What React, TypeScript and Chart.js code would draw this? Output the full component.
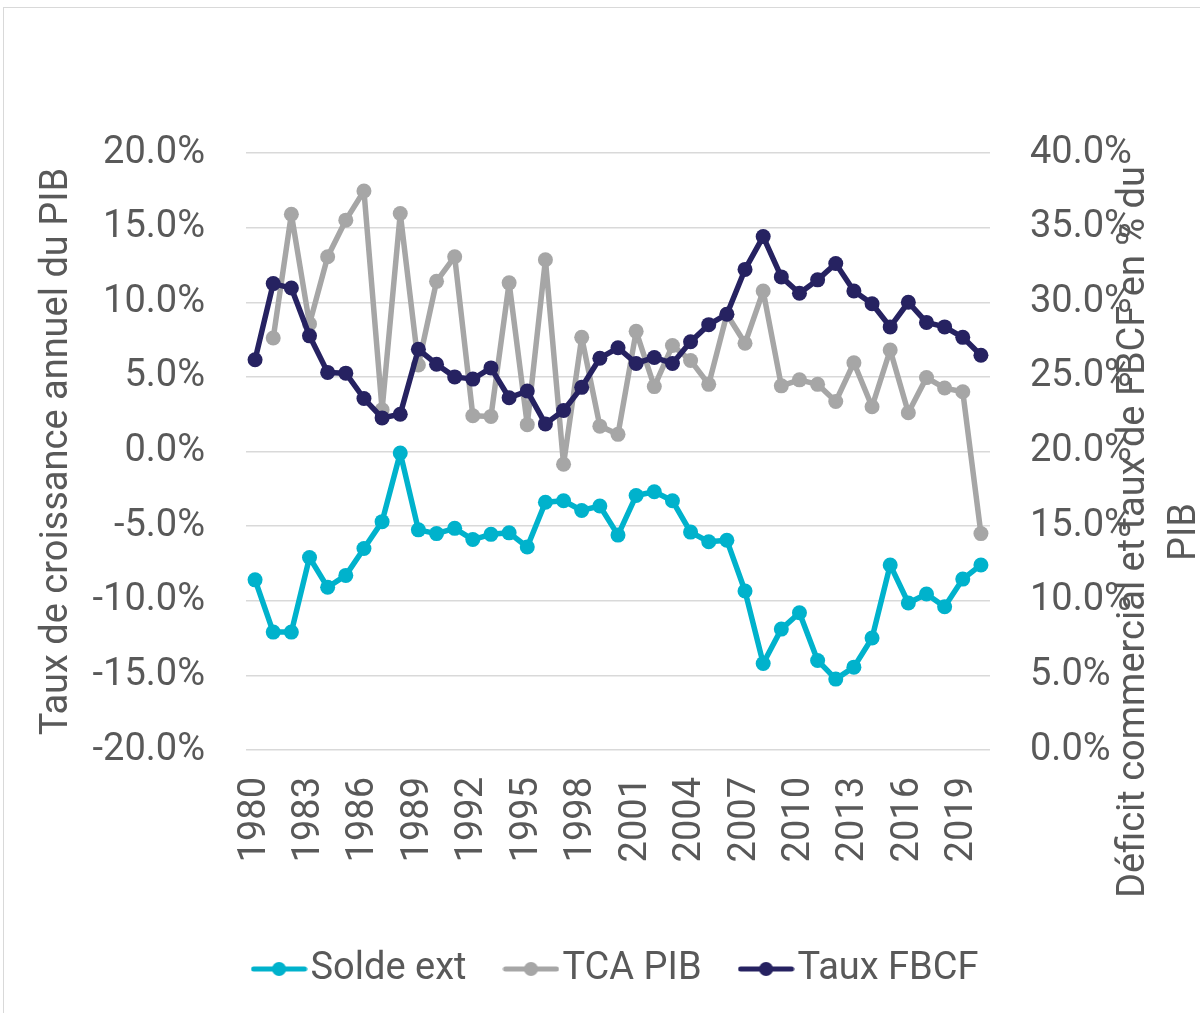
import { useEffect, useRef } from 'react';
import { Chart, registerables } from 'chart.js';

Chart.register(...registerables);

const years = [
  '1980', '1981', '1982', '1983', '1984', '1985', '1986', '1987', '1988', '1989',
  '1990', '1991', '1992', '1993', '1994', '1995', '1996', '1997', '1998', '1999',
  '2000', '2001', '2002', '2003', '2004', '2005', '2006', '2007', '2008', '2009',
  '2010', '2011', '2012', '2013', '2014', '2015', '2016', '2017', '2018', '2019',
  '2020',
];

const soldeExt = [
  -8.6, -12.1, -12.1, -7.1, -9.1, -8.3, -6.5, -4.7, -0.1, -5.25,
  -5.5, -5.15, -5.9, -5.55, -5.45, -6.4, -3.4, -3.3, -3.95, -3.65,
  -5.6, -2.95, -2.7, -3.3, -5.4, -6.05, -5.95, -9.35, -14.2, -11.9,
  -10.8, -14.0, -15.25, -14.45, -12.5, -7.6, -10.15, -9.55, -10.4, -8.55,
  -7.6,
];

const tcaPib = [
  null, 7.6, 15.9, 8.55, 13.05, 15.5, 17.45, 2.8, 15.95, 5.8,
  11.4, 13.05, 2.4, 2.35, 11.3, 1.8, 12.85, -0.85, 7.65, 1.7,
  1.15, 8.05, 4.35, 7.1, 6.1, 4.5, 9.2, 7.25, 10.75, 4.4,
  4.8, 4.5, 3.35, 5.95, 3.0, 6.8, 2.6, 4.95, 4.25, 4.0,
  -5.5,
];

const tauxFbcf = [
  26.15, 31.25, 30.95, 27.75, 25.3, 25.25, 23.55, 22.25, 22.5, 26.85,
  25.85, 25.0, 24.85, 25.6, 23.6, 24.05, 21.85, 22.75, 24.3, 26.25,
  26.95, 25.9, 26.3, 25.9, 27.35, 28.5, 29.2, 32.2, 34.4, 31.7,
  30.6, 31.5, 32.6, 30.75, 29.9, 28.35, 30.0, 28.65, 28.35, 27.65,
  26.45,
];

const seriesNames = ['Solde ext', 'TCA PIB', 'Taux FBCF'];
const seriesColors = ['#00B2CC', '#A6A6A6', '#262261'];
const leftTitle = 'Taux de croissance annuel du PIB';
const rightTitle = ['Déficit commercial et taux de FBCF en % du', 'PIB'];

const FONT = 'Roboto';
const TEXT = '#595959';
const FS = 38;

function legendIcon(color: string) {
  const c = document.createElement('canvas');
  c.width = 57;
  c.height = 16;
  const g = c.getContext('2d')!;
  g.strokeStyle = color;
  g.lineWidth = 5;
  g.lineCap = 'round';
  g.beginPath();
  g.moveTo(3, 8);
  g.lineTo(54, 8);
  g.stroke();
  g.fillStyle = color;
  g.beginPath();
  g.arc(28.5, 8, 7, 0, Math.PI * 2);
  g.fill();
  return c;
}

const rightTitlePlugin = {
  id: 'rightTitle',
  afterDraw(chart: any) {
    const ctx = chart.ctx;
    const xs = [1134, 1185];
    ctx.save();
    ctx.font = `${FS}px ${FONT}`;
    ctx.fillStyle = TEXT;
    ctx.textAlign = 'center';
    ctx.textBaseline = 'middle';
    rightTitle.forEach((t, i) => {
      ctx.save();
      ctx.translate(xs[i], 532);
      ctx.rotate(-Math.PI / 2);
      ctx.fillText(t, 0, 0);
      ctx.restore();
    });
    ctx.restore();
  },
};

export default function App() {
  const ref = useRef<HTMLCanvasElement>(null);

  useEffect(() => {
    const canvas = ref.current!;
    const series = [soldeExt, tcaPib, tauxFbcf];
    const axes = ['y', 'y', 'y1'];
    const orders = [3, 2, 1];
    const chart = new Chart(canvas, {
      type: 'line',
      data: {
        labels: years,
        datasets: series.map((d, i) => ({
          label: seriesNames[i],
          data: d,
          yAxisID: axes[i],
          order: orders[i],
          borderColor: seriesColors[i],
          backgroundColor: seriesColors[i],
          pointBackgroundColor: seriesColors[i],
          pointBorderColor: seriesColors[i],
          borderWidth: 5.5,
          borderJoinStyle: 'round',
          borderCapStyle: 'round',
          pointRadius: 7.5,
          pointHoverRadius: 7.5,
          pointBorderWidth: 0,
          tension: 0,
          fill: false,
        })),
      },
      options: {
        responsive: false,
        animation: false,
        events: [],
        layout: { padding: { top: 153, bottom: 15, left: 0, right: -45 } },
        plugins: {
          tooltip: { enabled: false },
          legend: {
            position: 'bottom',
            labels: {
              color: TEXT,
              font: { family: FONT, size: FS },
              usePointStyle: true,
              pointStyleWidth: 25,
              padding: 52,
              generateLabels: () =>
                seriesNames.map((n, i) => ({
                  text: n,
                  pointStyle: legendIcon(seriesColors[i]),
                  fillStyle: seriesColors[i],
                  strokeStyle: seriesColors[i],
                  lineWidth: 0,
                  hidden: false,
                  datasetIndex: i,
                  fontColor: TEXT,
                })),
            },
          },
        },
        scales: {
          x: {
            offset: true,
            grid: { display: false, drawTicks: false },
            border: { display: false },
            ticks: {
              autoSkip: false,
              maxRotation: 90,
              minRotation: 90,
              padding: 27,
              color: TEXT,
              font: { family: FONT, size: FS },
              callback: (_v: any, i: number) => (i % 3 === 0 ? years[i] : ''),
            },
            afterFit: (s: any) => {
              s.height = 148;
            },
          },
          y: {
            position: 'left',
            min: -20,
            max: 20,
            grid: { color: '#D9D9D9', lineWidth: 1.5, drawTicks: false },
            border: { display: false },
            ticks: {
              stepSize: 5,
              padding: 41,
              color: TEXT,
              font: { family: FONT, size: FS },
              callback: (v: any) => Number(v).toFixed(1) + '%',
            },
            title: {
              display: true,
              text: leftTitle,
              color: TEXT,
              font: { family: FONT, size: FS },
              padding: { top: 35, bottom: 0 },
            },
            afterFit: (s: any) => {
              s.width = 246;
            },
          },
          y1: {
            position: 'right',
            min: 0,
            max: 40,
            grid: { display: false, drawTicks: false },
            border: { display: false },
            ticks: {
              stepSize: 5,
              padding: 40,
              color: TEXT,
              font: { family: FONT, size: FS },
              callback: (v: any) => Number(v).toFixed(1) + '%',
            },
            afterFit: (s: any) => {
              s.width = 255;
            },
          },
        },
      } as any,
      plugins: [rightTitlePlugin],
    });
    return () => chart.destroy();
  }, []);

  return (
    <div
      style={{
        position: 'fixed',
        left: 0,
        top: 0,
        width: 1200,
        height: 1013,
        overflow: 'hidden',
        background: '#fff',
      }}
    >
      <div
        style={{
          position: 'absolute',
          left: 3,
          top: 7,
          width: 1300,
          height: 1100,
          border: '1px solid #D9D9D9',
        }}
      />
      <canvas
        ref={ref}
        width={1200}
        height={1013}
        style={{ position: 'absolute', left: 0, top: 0, width: 1200, height: 1013 }}
      />
    </div>
  );
}
